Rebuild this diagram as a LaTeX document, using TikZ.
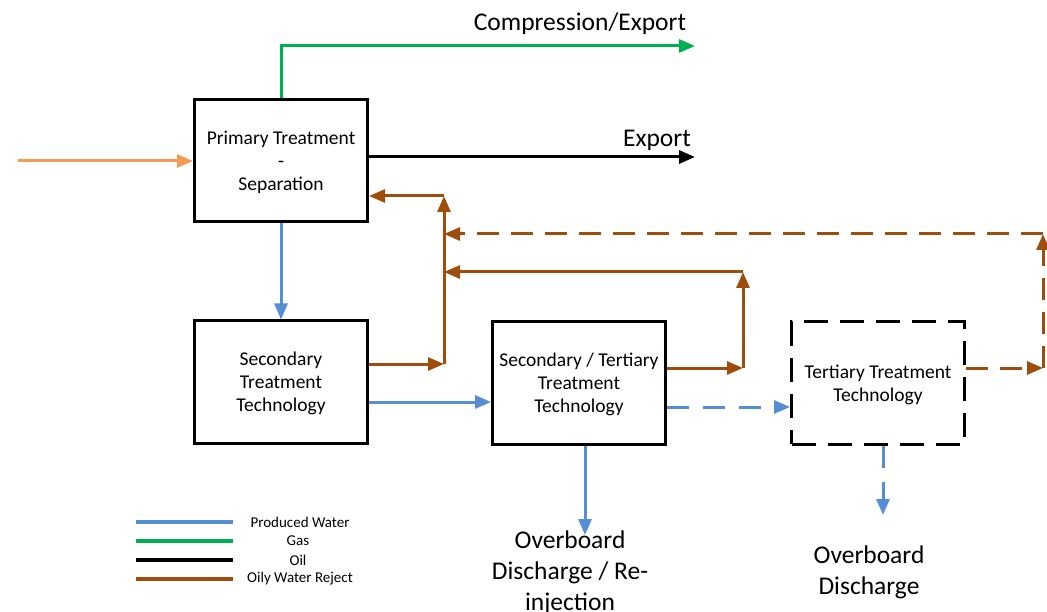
\documentclass[tikz,border=0pt]{standalone}
\usepackage{fontspec}
\setmainfont{Carlito}
\usetikzlibrary{arrows.meta}

\definecolor{pwater}{RGB}{85,142,213}
\definecolor{gasgreen}{RGB}{0,176,80}
\definecolor{reject}{RGB}{158,78,12}
\definecolor{feed}{RGB}{247,154,84}

\begin{document}
\begin{tikzpicture}[x=1pt,y=-1pt]
        \tikzstyle{unit}=[draw, line width=3pt, minimum width=173pt, minimum height=122pt, inner sep=0pt, text depth=0pt, align=center, font=\fontsize{19.5}{23}\selectfont]
        \tikzstyle{flow}=[line width=3pt, -{Triangle[length=16pt,width=13pt]}]
        \tikzstyle{legline}=[line width=3.2pt]
        \tikzstyle{bigtext}=[align=center, font=\fontsize{25.5}{31}\selectfont]
        \tikzstyle{legtext}=[font=\fontsize{15}{17}\selectfont]
        \useasboundingbox (0,0) rectangle (1047,612);

        % Draw treatment units
        \node[unit] (prim) at (281,161) {Primary Treatment\\-\\Separation};
        \node[unit] (sec) at (281,382) {Secondary\\Treatment\\Technology};
        \node[unit] (secter) at (579,383) {Secondary / Tertiary\\Treatment\\Technology};
        \node[unit, dash pattern=on 24pt off 12pt] (ter) at (878,383) {Tertiary Treatment\\Technology};

        % Add outlet labels
        \node[font=\fontsize{25.5}{28}\selectfont] (comp) at (580,24) {Compression/Export};
        \node[font=\fontsize{25.5}{28}\selectfont] (exp) at (657,140) {Export};
        \node[bigtext] (ob1) at (570,573) {Overboard\\Discharge / Re-\\injection};
        \node[bigtext] (ob2) at (869,572) {Overboard\\Discharge};

        % Bend points
        \coordinate (feedin) at (18,161);
        \coordinate (gasbend) at (281,46);
        \coordinate (gasout) at (695,46);
        \coordinate (oilout) at (695,157);
        \coordinate (j1) at (444,364);
        \coordinate (j1top) at (444,196);
        \coordinate (j2) at (743,368);
        \coordinate (j2top) at (743,272);
        \coordinate (j3) at (1043,368);
        \coordinate (j3top) at (1043,234);
        \coordinate (ob1in) at (585,535);
        \coordinate (ob2in) at (883,515);

        % Feed, gas and oil
        \draw[flow, feed] (feedin) -- (prim.west);
        \draw[flow, gasgreen] (prim.north) -- (gasbend) -- (gasout);
        \draw[flow, black] (prim.east |- oilout) -- (oilout);

        % Produced water
        \draw[flow, pwater] (prim.south) -- (sec.north);
        \draw[flow, pwater] (sec.east |- 0,402) -- (secter.west |- 0,402);
        \draw[flow, pwater, dash pattern=on 22pt off 14pt] (secter.east |- 0,407) -- (ter.west |- 0,407);
        \draw[flow, pwater] (secter.south -| ob1in) -- (ob1in);
        \draw[flow, pwater, dash pattern=on 22pt off 14pt] (ter.south -| ob2in) -- (ob2in);

        % Oily water reject
        \draw[flow, reject] (sec.east |- j1) -- (j1);
        \draw[flow, reject] (j1) -- (j1top);
        \draw[flow, reject] (j1top) -- (prim.east |- j1top);
        \draw[flow, reject] (secter.east |- j2) -- (j2);
        \draw[flow, reject] (j2) -- (j2top);
        \draw[flow, reject] (j2top) -- (j1 |- j2top);
        \draw[flow, reject, dash pattern=on 22pt off 12pt] (ter.east |- j3) -- (j3);
        \draw[flow, reject, dash pattern=on 22pt off 12pt] (j3) -- (j3top);
        \draw[flow, reject, dash pattern=on 22pt off 12pt] (j3top) -- (j1 |- j3top);

        % Legend
        \draw[legline, pwater] (136,522) -- (233,522);
        \draw[legline, gasgreen] (136,541) -- (233,541);
        \draw[legline, black] (136,560) -- (233,560);
        \draw[legline, reject] (136,579) -- (233,579);
        \node[legtext] (lpw) at (300,522) {Produced Water};
        \node[legtext] (lgas) at (298,541) {Gas};
        \node[legtext] (loil) at (298,560) {Oil};
        \node[legtext] (lrej) at (300,579) {Oily Water Reject};
\end{tikzpicture}
\end{document}
